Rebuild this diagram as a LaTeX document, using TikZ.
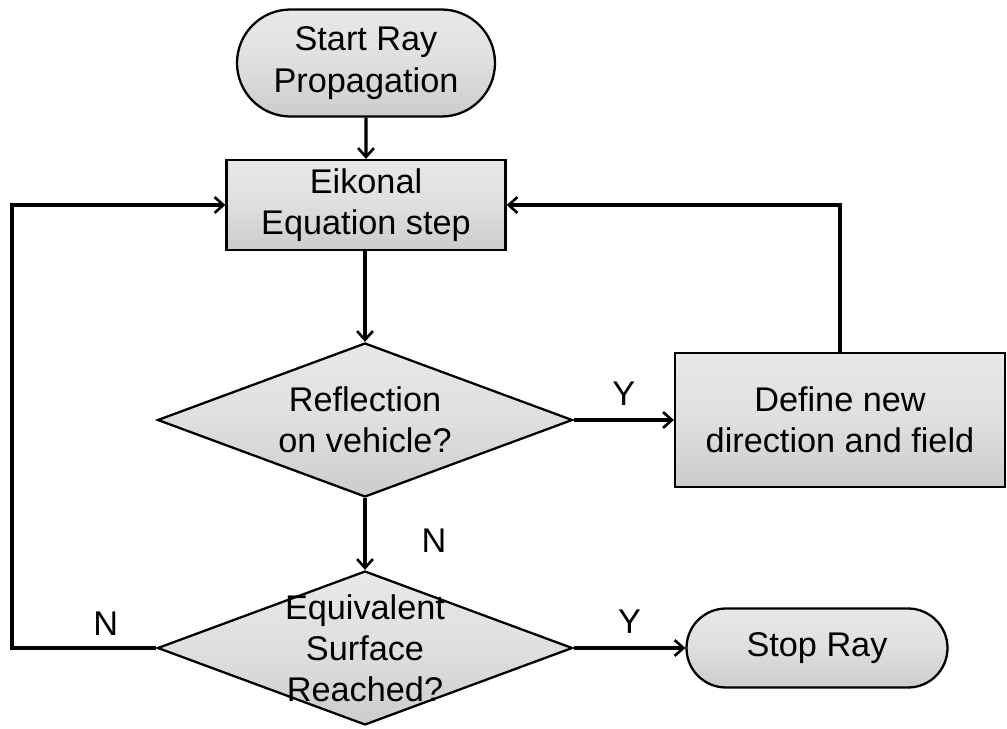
\documentclass[tikz,border=0pt]{standalone}
\usepackage{fontspec}
\setmainfont{Liberation Sans}
\usetikzlibrary{arrows.meta,positioning,shapes.geometric,shapes.misc}

\begin{document}
\begin{tikzpicture}[x=0.02cm,y=-0.02cm,
  every node/.style={font=\fontsize{19.5}{23.5}\selectfont},
  box/.style={draw,line width=1.3pt,align=center,inner sep=0pt,top color=gray!18,bottom color=gray!40,middle color=gray!25},
  term/.style={box,rounded rectangle},
  decide/.style={box,diamond,aspect=2.7},
  flow/.style={line width=1.8pt,-{Straight Barb[length=5pt,width=9pt,line width=1.5pt]}},
  link/.style={line width=1.8pt}]
\useasboundingbox (0,0) rectangle (1007,729);
\node[term,minimum width=258*0.02cm,minimum height=107*0.02cm] (start) at (366,63) {Start Ray\\Propagation};
\node[box,minimum width=279*0.02cm,minimum height=90*0.02cm] (eik) at (366,205) {Eikonal\\Equation step};
\node[decide,minimum width=415*0.02cm,minimum height=154*0.02cm] (refl) at (365,420) {\smash{\raisebox{-7.5pt}{\begin{tabular}{c}Reflection\\on vehicle?\end{tabular}}}};
\node[box,minimum width=330*0.02cm,minimum height=134*0.02cm] (newdir) at (840,420) {Define new\\direction and field};
\node[decide,minimum width=415*0.02cm,minimum height=154*0.02cm] (surf) at (365,648) {\smash{\raisebox{-7.5pt}{\begin{tabular}{c}Equivalent\\Surface\\Reached?\end{tabular}}}};
\node[term,minimum width=261*0.02cm,minimum height=79*0.02cm] (stop) at (817,648) {Stop Ray};
\coordinate (lft) at (12,648);
\draw[flow] (start) -- (start|-eik.north);
\draw[flow] (eik.south-|refl) -- (refl);
\draw[flow] (refl) -- node[above=4pt] {Y} (newdir);
\draw[flow] (newdir.north) |- (eik.east);
\draw[flow] (refl) -- node[right=28pt,pos=0.6] {N} (surf);
\draw[flow] (surf) -- node[above=4pt] {Y} (stop);
\draw[flow] (surf.west) -- node[above=3pt,pos=0.35] {N} (lft) |- (eik.west);
\end{tikzpicture}
\end{document}
